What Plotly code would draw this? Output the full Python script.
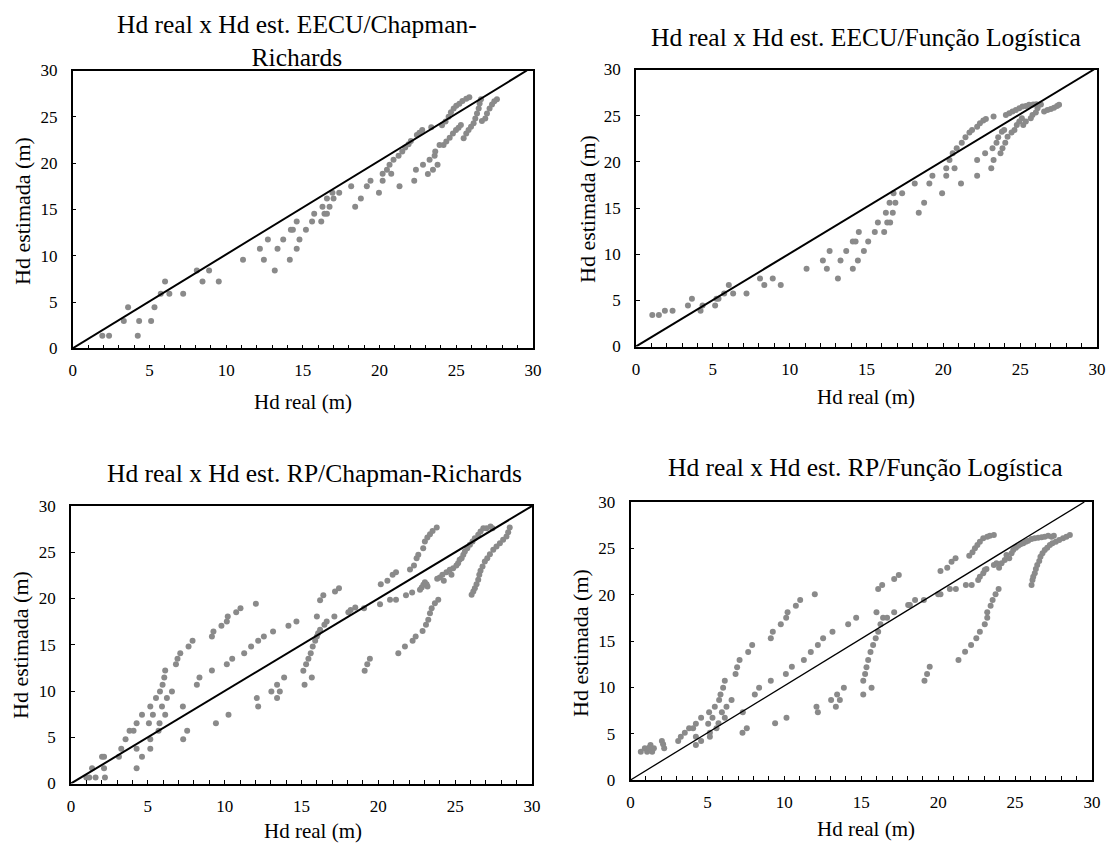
import plotly.graph_objects as go

# Hd real (x) vs Hd estimada (y)
# panel 1: EECU / Chapman-Richards
real_1 = [1.93, 2.37, 3.33, 3.61, 4.24, 4.33, 5.11, 5.33, 5.74, 6.02, 6.30, 7.20, 8.09, 8.46, 8.89, 9.52,
          11.1, 12.2, 12.46, 12.72, 13.17, 13.35, 13.72, 14.15, 14.22, 14.35, 14.6, 14.6, 14.78,
          15.2, 15.6, 15.74, 16.2, 16.28, 16.41, 16.57, 16.57, 16.74, 16.93, 17.0, 17.37, 18.15, 18.41,
          18.78, 19.17, 19.41, 19.96, 20.2, 20.2, 20.48, 20.65, 20.76, 20.91, 21.24, 21.3, 21.48, 21.67,
          21.89, 22.04, 22.26, 22.37, 22.43, 22.6, 22.78, 22.83, 23.15, 23.26, 23.37, 23.48, 23.59, 23.63,
          23.78, 23.91,
          24.07, 24.3, 24.5, 24.65, 24.83, 25.0, 25.2, 25.4, 25.65, 25.85,
          24.17, 24.35, 24.57, 24.78, 24.98, 25.15, 25.3,
          25.48, 25.65, 25.8, 25.96, 26.13, 26.24, 26.35, 26.46, 26.52, 26.61,
          26.67, 26.89, 27.0, 27.17, 27.33, 27.48, 27.65]
est_1 = [1.36, 1.36, 2.96, 4.43, 1.36, 2.96, 2.96, 4.43, 5.89, 7.21, 5.89, 5.89, 8.39, 7.21, 8.39, 7.21,
         9.57, 10.75, 9.57, 11.75, 8.39, 10.75, 11.75, 9.57, 12.79, 12.79, 13.68, 10.75, 11.75,
         12.79, 13.68, 14.54, 13.68, 15.29, 14.54, 14.54, 16.18, 15.29, 16.79, 16.18, 16.79, 17.5, 15.29,
         16.18, 17.5, 18.1, 16.79, 18.1, 18.86, 19.29, 19.82, 18.86, 20.36, 20.79, 17.5, 21.25, 21.68,
         22.04, 22.39, 18.1, 19.29, 23.04, 23.29, 23.57, 19.82, 18.82, 20.36, 23.86, 19.29, 20.79, 21.25,
         19.82, 21.96,
         24.1, 24.5, 25.0, 25.5, 25.9, 26.2, 26.4, 26.7, 26.96, 27.1,
         21.96, 22.32, 22.75, 23.21, 23.57, 23.82, 24.11,
         22.68, 23.21, 23.57, 23.93, 24.29, 24.82, 25.36, 25.89, 26.43, 26.89,
         24.54, 24.82, 25.36, 25.89, 26.32, 26.68, 26.89]

# panel 2: EECU / Funcao Logistica
real_2 = [1.06, 1.49, 1.88, 2.38, 3.38, 3.64, 4.2, 4.33, 5.15, 5.24, 5.37, 5.74, 6.04, 6.32, 7.19, 8.07,
          8.35, 8.9, 9.42, 11.1, 12.16, 12.42, 12.6, 13.14, 13.31, 13.68, 14.11, 14.11, 14.29, 14.44, 14.5,
          14.83, 15.11, 15.54, 16.15, 15.74, 16.35, 16.54, 16.26, 16.71, 16.5, 16.88, 16.76, 17.32, 18.14,
          18.4, 18.75, 19.09, 19.29, 19.92, 20.19, 20.19, 20.4, 20.73, 20.61, 20.87, 21.15, 21.2, 21.44,
          21.7, 21.87, 22.2, 22.38, 22.6, 22.77, 22.2, 22.2, 22.72, 23.12, 23.2, 23.27, 23.27, 23.46, 23.57,
          23.72, 23.85, 23.81, 23.96, 24.03, 24.07, 24.18, 24.29, 24.44, 24.5, 24.63, 24.72, 24.78, 24.94,
          24.94, 25.11, 25.15, 25.2, 25.37, 25.37, 25.58, 25.69, 25.8, 26.02, 26.13, 26.23, 25.85, 26.05,
          26.35, 26.56, 26.78, 27.0, 27.2, 27.4, 27.53]
est_2 = [3.4, 3.4, 3.87, 3.87, 4.45, 5.17, 3.87, 4.45, 4.45, 5.17, 5.17, 5.75, 6.65, 5.75, 5.75, 7.37,
         6.65, 7.37, 6.65, 8.42, 9.32, 8.42, 10.34, 7.37, 9.32, 10.34, 8.42, 11.38, 11.38, 9.32, 12.4,
         10.34, 11.38, 12.4, 12.4, 13.44, 13.44, 13.44, 14.49, 14.49, 15.58, 15.58, 16.59, 16.59, 17.64,
         14.49, 15.58, 17.64, 18.5, 16.59, 18.5, 19.3, 20.2, 19.3, 20.93, 21.47, 17.64, 22.08, 22.66,
         23.17, 23.45, 23.8, 24.18, 24.47, 24.65, 20.2, 18.5, 20.93, 19.3, 21.47, 20.2, 24.9, 22.08, 22.66,
         20.93, 21.47, 23.27, 23.45, 22.08, 25.08, 22.73, 25.26, 23.17, 25.44, 23.45, 25.62, 24.0, 25.8,
         24.36, 24.72, 25.98, 24.0, 26.06, 24.36, 26.17, 24.72, 25.08, 25.33, 25.8, 26.17, 26.2, 26.25,
         26.2, 25.44, 25.62, 25.73, 25.87, 26.06, 26.17]

# panel 3: RP / Chapman-Richards
real_3 = [1.0, 1.19, 1.37, 1.6, 2.02, 2.15, 2.15, 2.21, 3.12, 3.27, 3.55, 3.81, 4.07, 4.27, 4.27, 4.27,
          4.62, 4.62, 5.07, 5.16, 5.16, 5.16, 5.33, 5.53, 5.7, 5.76, 5.79, 5.92, 5.96, 6.07, 6.13, 6.13,
          6.24, 6.57, 6.83, 6.93, 7.11, 7.28, 7.3, 7.56, 7.65, 7.91, 8.19, 8.36, 9.17, 9.17, 9.27, 9.43,
          9.79, 10.14, 10.14, 10.2, 10.25, 10.49, 10.75, 11.03, 11.27, 11.72, 12.03, 12.09, 12.18, 12.18,
          12.55, 13.04, 13.15, 13.41, 13.41, 13.59, 13.87, 14.15, 14.67,
          15.12, 15.2, 15.3, 15.45, 15.6, 15.67, 15.73, 15.89, 16.0, 16.08, 16.0, 16.21, 16.21, 16.42,
          16.49, 16.64, 17.14, 17.18, 17.44, 18.05, 18.2, 18.5, 19.07, 19.11, 19.28, 19.45, 20.11, 20.16,
          20.59, 20.76, 20.93, 21.15, 21.15, 21.3, 21.73, 21.8, 22.06, 22.2, 22.23, 22.32, 22.43, 22.49,
          22.6, 22.88, 22.92, 23.03, 23.1, 23.19, 23.25, 23.36, 23.36, 23.47, 23.53, 23.68, 23.8, 23.9,
          22.71, 22.82, 22.93, 23.03, 23.14, 23.2,
          23.83, 24.0, 24.17, 24.26, 24.43, 24.65, 24.76, 24.87, 25.08, 25.19, 25.29,
          25.42, 25.53, 25.63, 25.79, 25.96, 26.13, 26.28, 26.5, 26.65, 26.83, 27.04, 27.3, 27.43,
          26.07, 26.18, 26.28, 26.39, 26.5, 26.57, 26.65, 26.78, 26.93, 27.09, 27.26, 27.48, 27.69,
          27.91, 28.12, 28.34, 28.45, 28.55]
est_3 = [0.65, 0.65, 1.66, 0.65, 2.88, 2.88, 1.66, 0.65, 2.88, 3.75, 4.79, 5.69, 5.69, 6.52, 3.75, 1.66,
         7.42, 2.88, 6.52, 4.79, 3.75, 8.32, 7.42, 9.23, 5.69, 6.52, 9.95, 8.32, 10.67, 11.46, 12.22, 7.42,
         9.23, 9.95, 12.9, 13.48, 14.09, 8.32, 4.79, 5.69, 14.81, 15.42, 10.67, 11.46, 12.22, 15.89, 16.43,
         6.52, 17.05, 12.9, 17.51, 18.05, 7.42, 13.48, 18.52, 18.95, 14.09, 14.81, 19.42, 9.23, 8.32, 15.42,
         15.89, 9.95, 16.43, 10.67, 9.23, 9.95, 11.46, 17.05, 17.51,
         12.18, 10.67, 12.9, 13.48, 14.09, 11.46, 14.81, 15.42, 15.89, 16.25, 18.05, 19.82, 16.61, 20.36,
         17.15, 17.51, 18.05, 20.76, 21.12, 18.52, 18.77, 19.03, 18.95, 12.18, 12.9, 13.48, 19.39, 21.55,
         21.91, 19.86, 22.56, 22.85, 19.86, 14.09, 14.81, 20.36, 23.14, 20.65, 15.42, 23.57, 15.89, 24.36,
         24.72, 16.5, 25.44, 26.16, 17.15, 26.59, 17.69, 26.95, 18.41, 18.95, 27.31, 19.5, 27.68, 19.86,
         20.94, 21.19, 21.48, 21.77, 21.55, 21.3,
         22.13, 22.27, 22.56, 21.91, 22.85, 23.1, 22.56, 23.28, 23.57, 23.82, 24.18,
         24.36, 24.72, 25.08, 25.44, 25.8, 26.16, 26.52, 26.88, 27.24, 27.6, 27.6, 27.78, 27.6,
         20.4, 20.76, 21.12, 21.55, 22.02, 22.56, 22.99, 23.46, 24.0, 24.36, 24.79, 25.26, 25.62,
         25.98, 26.34, 26.7, 27.17, 27.68]

# panel 4: RP / Funcao Logistica
real_4 = [0.67, 0.93, 1.08, 1.21, 1.3, 1.41, 1.52, 2.04, 2.12, 2.19, 3.1, 3.27, 3.53, 3.81, 4.07, 4.25,
          4.25, 4.25, 4.59, 4.59, 5.05, 5.11, 5.16, 5.16, 5.33, 5.48, 5.59, 5.72, 5.76, 5.85, 5.94, 6.02,
          6.13, 6.13, 6.24, 6.57, 6.83, 6.93, 7.09, 7.28, 7.3, 7.56, 7.65, 7.91, 8.08, 8.36, 9.12, 9.12,
          9.25, 9.4, 9.77, 10.1, 10.12, 10.21, 10.14, 10.49, 10.75, 11.03, 11.27, 11.72, 11.98, 12.09,
          12.18, 12.18, 12.52, 13.04, 13.13, 13.35, 13.43, 13.61, 13.87, 14.15, 14.67,
          15.13, 15.13, 15.25, 15.34, 15.45, 15.6, 15.67, 15.77, 15.94, 16.1, 15.99, 16.1, 16.25, 16.36,
          16.42, 16.68, 17.14, 17.14, 17.44, 18.05, 18.16, 18.5, 19.07, 19.11, 19.28, 19.45, 20.0, 20.15,
          20.15, 20.59, 20.76, 20.87, 21.13, 21.15, 21.32, 21.75, 21.8, 22.02, 22.14, 22.18, 22.23, 22.48,
          22.39, 22.55, 22.71, 22.71, 22.93, 23.03, 23.19, 23.19, 23.19, 23.36, 23.41, 23.54, 23.62, 23.73,
          23.93,
          22.6, 22.71, 22.93, 23.03, 23.14,
          23.62, 23.79, 23.96, 24.12, 24.33, 24.44, 24.62, 24.77, 24.88, 25.05, 25.2, 25.35, 25.53, 25.7,
          25.85, 26.07, 26.28, 26.5, 26.72, 26.93, 27.15, 27.37, 27.52,
          26.07, 26.13, 26.18, 26.28, 26.35, 26.44, 26.57, 26.65, 26.78, 26.93, 27.09, 27.26, 27.43,
          27.65, 27.87, 28.12, 28.34, 28.56]
est_4 = [3.06, 3.42, 3.06, 3.49, 3.78, 3.06, 3.42, 4.21, 3.85, 3.42, 4.21, 4.68, 5.11, 5.58, 5.58, 6.08,
         4.68, 3.78, 6.73, 4.21, 6.08, 7.3, 5.11, 4.68, 6.73, 7.91, 5.58, 6.12, 8.63, 9.24, 7.3, 9.96,
         10.72, 6.73, 7.91, 8.63, 11.44, 12.16, 12.95, 5.11, 7.3, 5.58, 13.81, 14.57, 9.24, 9.96, 10.72, 15.29,
         16.01, 6.12, 16.8, 11.44, 17.52, 18.09, 6.73, 12.23, 18.81, 19.42, 12.95, 13.81, 20.04, 7.91,
         7.3, 14.57, 15.29, 8.63, 16.01, 7.91, 9.24, 8.63, 9.96, 16.8, 17.52,
         9.24, 10.72, 11.44, 12.16, 12.95, 13.81, 9.96, 14.57, 15.29, 16.01, 18.09, 20.61, 16.8, 21.04,
         17.52, 17.52, 18.09, 21.69, 22.12, 18.88, 18.88, 19.42, 19.42, 10.72, 11.44, 12.23, 20.04, 20.04,
         22.55, 22.91, 20.61, 23.56, 23.92, 20.61, 12.95, 13.85, 21.04, 24.21, 14.57, 21.04, 24.57, 15.29,
         25.0, 25.36, 25.72, 16.01, 26.08, 16.8, 26.26, 17.52, 18.09, 26.37, 18.81, 19.42, 26.44, 20.04,
         20.61,
         21.58, 21.94, 22.3, 22.66, 22.77,
         23.2, 23.38, 22.91, 23.38, 23.74, 24.28, 23.92, 24.46, 24.82, 25.07, 25.29, 25.43, 25.54, 25.72,
         25.83, 26.01, 26.08, 26.15, 26.19, 26.26, 26.37, 26.26, 26.37,
         21.04, 21.58, 21.94, 22.3, 22.77, 23.2, 23.63, 24.1, 24.46, 24.82, 25.07, 25.36, 25.54,
         25.72, 25.9, 26.08, 26.26, 26.44]

titles = ['Hd real x Hd est. EECU/Chapman-<br>Richards',
          'Hd real x Hd est. EECU/Função Logística',
          'Hd real x Hd est. RP/Chapman-Richards',
          'Hd real x Hd est. RP/Função Logística']
x_title = 'Hd real (m)'
y_title = 'Hd estimada (m)'
tick_vals = [0, 5, 10, 15, 20, 25, 30]
# 1:1 reference line ends (x reached at the top of each panel)
line_x = [[0, 29.6], [0, 29.8], [0, 30], [0, 29.5]]
line_y = [[0, 30], [0, 30], [0, 30], [0, 30]]
line_w = [2, 2, 2, 1.3]

W, H = 1109, 844
FONT = 'Liberation Serif, Times New Roman, serif'
# plot boxes in pixels: left, top, right, bottom
boxes = [(72.7, 70.5, 533, 348.3), (636, 69.5, 1097, 346.5),
         (71, 506, 532, 783.5), (630.5, 502, 1092, 780)]
title_pos = [(297, 41), (866, 38), (315, 473), (865, 468)]
xlab_pos = [(303, 402), (866, 397), (313, 831), (866, 829)]
ylab_pos = [(22, 211), (587, 209), (20, 645), (580, 643)]

data = [(real_1, est_1), (real_2, est_2), (real_3, est_3), (real_4, est_4)]

fig = go.Figure()
annotations = []
for i, (xs, ys) in enumerate(data):
    n = '' if i == 0 else str(i + 1)
    xa, ya = 'x' + n, 'y' + n
    fig.add_trace(go.Scatter(x=xs, y=ys, mode='markers', xaxis=xa, yaxis=ya,
                             marker=dict(size=6, color='#8a8a8a'), showlegend=False))
    fig.add_trace(go.Scatter(x=line_x[i], y=line_y[i], mode='lines', xaxis=xa, yaxis=ya,
                             line=dict(color='black', width=line_w[i]), showlegend=False))
    l, t, r, b = boxes[i]
    common = dict(range=[0, 30], tickvals=tick_vals, showgrid=False, zeroline=False,
                  showline=True, mirror=True, linecolor='black', linewidth=1.5,
                  ticks='inside', ticklen=4, tickcolor='black', tickwidth=1.2,
                  automargin=False,
                  tickfont=dict(family=FONT, size=17, color='black'))
    fig.layout['xaxis' + n] = dict(domain=[l / W, r / W], anchor=ya, ticklabelstandoff=6,
                                   minor=dict(dtick=1, ticks='inside', ticklen=4,
                                              tickcolor='black', tickwidth=1.2),
                                   **common)
    fig.layout['yaxis' + n] = dict(domain=[1 - b / H, 1 - t / H], anchor=xa,
                                   ticklabelstandoff=10, **common)
    tx, ty = title_pos[i]
    annotations.append(dict(text=titles[i], x=tx / W, y=1 - ty / H, xref='paper', yref='paper',
                            xanchor='center', yanchor='middle', showarrow=False,
                            font=dict(family=FONT, size=25.5, color='black')))
    ax, ay = xlab_pos[i]
    annotations.append(dict(text=x_title, x=ax / W, y=1 - ay / H, xref='paper', yref='paper',
                            xanchor='center', yanchor='middle', showarrow=False,
                            font=dict(family=FONT, size=21, color='black')))
    bx, by = ylab_pos[i]
    annotations.append(dict(text=y_title, x=bx / W, y=1 - by / H, xref='paper', yref='paper',
                            xanchor='center', yanchor='middle', showarrow=False, textangle=-90,
                            font=dict(family=FONT, size=22, color='black')))

fig.update_layout(width=W, height=H, margin=dict(l=0, r=0, t=0, b=0),
                  paper_bgcolor='white', plot_bgcolor='white', annotations=annotations)
fig.write_html('out.html', config={'displayModeBar': False},
               post_script="document.body.style.margin='0';document.body.style.overflow='hidden';")
